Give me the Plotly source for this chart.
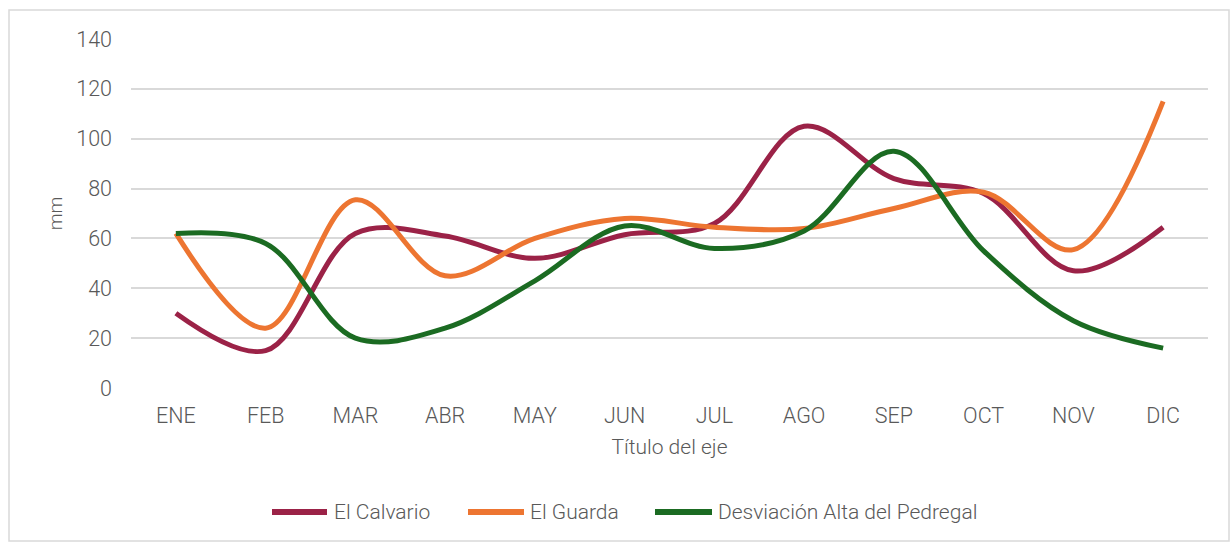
import plotly.graph_objects as go

# Monthly rainfall (mm) at three stations
meses = ["ENE", "FEB", "MAR", "ABR", "MAY", "JUN", "JUL", "AGO", "SEP", "OCT", "NOV", "DIC"]
el_calvario = [30, 15, 62, 61, 52, 61.5, 66, 105, 84, 78, 47, 64.5]
el_guarda = [62, 24, 75.5, 45, 60, 68, 64.5, 64, 72, 78.5, 55.5, 115]
desviacion_pedregal = [62, 58, 20, 24, 43, 65, 56, 63, 95, 55, 27, 16]

series = [
    ("El Calvario", el_calvario, "#9b2247"),
    ("El Guarda", el_guarda, "#ed7531"),
    ("Desviación Alta del Pedregal", desviacion_pedregal, "#1b6b22"),
]

FONT = "Roboto"
GREY = "#595959"

# Plot-area geometry in pixels (used to place the frame and the legend)
W, H = 1230, 542
ML, MR, MT, MB = 131, 22, 39, 154
PW, PH = W - ML - MR, H - MT - MB


def px(x):
    return (x - ML) / PW


def py(y):
    return (H - MB - y) / PH


fig = go.Figure()
for name, vals, color in series:
    fig.add_trace(go.Scatter(
        x=meses, y=vals, name=name, mode="lines", showlegend=False,
        line=dict(color=color, width=5, shape="spline", smoothing=1),
    ))

# Outer chart frame
fig.add_shape(type="rect", xref="paper", yref="paper",
              x0=px(9), x1=px(1229), y0=py(541), y1=py(10),
              line=dict(color="#d9d9d9", width=1.5), fillcolor="rgba(0,0,0,0)")

# Legend: long line swatch followed by the series name
legend_y = 512
legend_items = [(272, 327, 332), (468, 524, 528), (655, 712, 716)]
for (name, _, color), (x0, x1, xt) in zip(series, legend_items):
    fig.add_shape(type="line", xref="paper", yref="paper",
                  x0=px(x0), x1=px(x1), y0=py(legend_y), y1=py(legend_y),
                  line=dict(color=color, width=6))
    fig.add_annotation(xref="paper", yref="paper", x=px(xt), y=py(legend_y),
                       xanchor="left", yanchor="middle", showarrow=False,
                       text=name, font=dict(size=21, color=GREY, family=FONT, weight=300))

fig.update_layout(
    width=W, height=H,
    margin=dict(l=ML, r=MR, t=MT, b=MB),
    paper_bgcolor="white", plot_bgcolor="white",
    font=dict(family=FONT, color=GREY, size=21, weight=300),
    showlegend=False,
    xaxis=dict(
        type="category", range=[-0.5, 11.5], showgrid=False, zeroline=False,
        showline=False, ticks="", ticklabelstandoff=12,
        tickfont=dict(size=21.5, color=GREY, family=FONT, weight=300),
        title=dict(text="Título del eje", standoff=12,
                   font=dict(size=21, color=GREY, family=FONT, weight=300)),
    ),
    yaxis=dict(
        range=[0, 140], dtick=20, showgrid=True, gridcolor="#d9d9d9", gridwidth=1.5,
        zeroline=False, showline=False, ticks="", ticklabelstandoff=18,
        tickfont=dict(size=21.5, color=GREY, family=FONT, weight=300),
        title=dict(text="mm", standoff=8,
                   font=dict(size=19, color=GREY, family=FONT, weight=300)),
    ),
)

fig.write_html("out.html")
